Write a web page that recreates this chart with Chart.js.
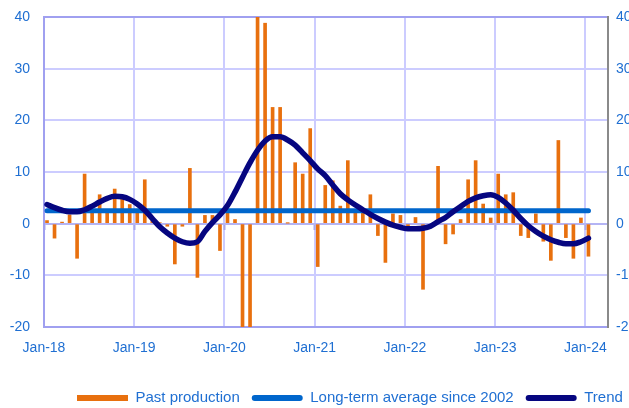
<!DOCTYPE html>
<html><head><meta charset="utf-8">
<script src="https://cdn.jsdelivr.net/npm/chart.js@4.4.1/dist/chart.umd.min.js"></script>
<style>html,body{margin:0;padding:0;background:#fff;}canvas{display:block;}</style>
</head><body>
<canvas id="c" width="629" height="408"></canvas>
<script>
// ---- data (monthly, Jan-18 .. Jan-24) ----
const tickLabels = ['Jan-18','Jan-19','Jan-20','Jan-21','Jan-22','Jan-23','Jan-24'];
const pastProduction = [
  0.6, -2.8, 0.3, 1.7, -6.7, 9.6, 2.1, 5.6, 2.1, 6.7, 4.7, 3.7,
  2.1, 8.5, 0.8, 0.2, -0.5, -7.8, -0.5, 10.7, -10.4, 1.6, 1.6, -5.2,
  2.1, 0.8, -25, -22, 41.5, 38.8, 22.5, 22.5, 0.1, 11.8, 9.6, 18.4,
  -8.3, 7.4, 8.3, 3.4, 12.2, 2.1, 2.1, 5.6, -2.3, -7.5, 1.9, 1.6,
  -0.4, 1.2, -12.7, -0.3, 11.1, -3.9, -2.0, 0.8, 8.5, 12.2, 3.8, 1.1,
  9.6, 5.6, 6.0, -2.3, -2.7, 1.9, -3.4, -7.1, 16.1, -2.7, -6.7, 1.1,
  -6.3
];
const trend = [
  3.7, 3.1, 2.6, 2.3, 2.3, 2.7, 3.4, 4.2, 4.9, 5.3, 5.2, 4.7,
  3.8, 2.6, 1.0, -0.6, -1.8, -2.8, -3.5, -3.8, -3.5, -1.5, 0.2, 1.7,
  3.5, 6.1, 9.0, 11.8, 14.2, 16.0, 16.8, 16.8, 16.2, 15.2, 13.7, 12.2,
  10.6, 9.3, 7.5, 5.8, 4.6, 3.6, 2.7, 1.8, 1.0, 0.3, -0.3, -0.7,
  -1.0, -1.0, -0.9, -0.5, 0.4, 1.2, 2.3, 3.3, 4.3, 5.0, 5.4, 5.6,
  5.1, 4.0, 2.6, 1.0, -0.4, -1.5, -2.4, -3.1, -3.6, -3.9, -3.9, -3.5,
  -2.8
];
const longTermAverage = 2.5;
const yTicks = [-20, -10, 0, 10, 20, 30, 40];

// ---- styles ----
const ORANGE = '#e8700e';
const BLUE = '#0066cc';
const NAVY = '#060680';
const TEXT = '#1f6fd2';
const GRID = '#ccccff';
const FRAME = '#a0a0f0';
const ZERO = '#b4b4f4';
const CLEAR = 'rgba(0,0,0,0)';
const MONTHS_PER_YEAR = 12;
const barPos = i => i + 0.4;

const barData = pastProduction.map((v, i) => ({x: barPos(i), y: v}));
const trendData = trend.map((v, i) => ({x: barPos(i), y: v}));
const ltaData = [{x: barPos(0), y: longTermAverage}, {x: barPos(pastProduction.length - 1), y: longTermAverage}];
const yearTicks = s => { s.ticks = tickLabels.map((t, i) => ({value: i * MONTHS_PER_YEAR})); };

const legendPlace = {
  id: 'legendPlace',
  afterLayout(chart) {
    const lg = chart.legend;
    if (!lg) return;
    const pad = lg.options.labels.padding;
    const dx = 77 - (lg.left + pad);
    lg.left += dx; lg.right += dx;
    const h = lg.height;
    lg.top = 398 - pad - 7.5;
    lg.bottom = lg.top + h;
  }
};

Chart.defaults.font.family = '"Liberation Sans", Arial, sans-serif';

new Chart(document.getElementById('c'), {
  data: {
    datasets: [
      {type: 'bar', label: 'Past production', data: barData, backgroundColor: ORANGE,
       barThickness: 3, order: 3, clip: 0, xAxisID: 'x', yAxisID: 'y'},
      {type: 'line', label: 'Long-term average since 2002', data: ltaData, borderColor: BLUE,
       borderWidth: 5, borderCapStyle: 'round', pointRadius: 0, order: 2, xAxisID: 'x', yAxisID: 'y'},
      {type: 'line', label: 'Trend', data: trendData, borderColor: NAVY, borderWidth: 5.5,
       borderCapStyle: 'round', borderJoinStyle: 'round', tension: 0.4, cubicInterpolationMode: 'monotone',
       pointRadius: 0, order: 1, xAxisID: 'x', yAxisID: 'y'}
    ]
  },
  options: {
    responsive: false,
    animation: false,
    devicePixelRatio: 1,
    layout: {padding: {top: 17, left: 0, right: 0, bottom: 0}},
    plugins: {
      tooltip: {enabled: false},
      legend: {
        position: 'bottom', align: 'start', maxHeight: 30,
        labels: {
          boxWidth: 51, boxHeight: 6, padding: 12, color: TEXT, useBorderRadius: true,
          font: {size: 15},
          generateLabels(chart) {
            return chart.data.datasets.map((ds, i) => ({
              text: ds.label, fillStyle: ds.type === 'bar' ? ds.backgroundColor : ds.borderColor,
              strokeStyle: CLEAR, lineWidth: 0, fontColor: TEXT, hidden: false,
              borderRadius: ds.type === 'bar' ? 0 : 3, datasetIndex: i
            }));
          }
        }
      }
    },
    scales: {
      x: {
        type: 'linear', position: 'bottom', min: 0, max: 75, offset: false,
        afterBuildTicks: yearTicks,
        afterFit(s) { s.height = 51; },
        ticks: {autoSkip: false, maxRotation: 0, color: TEXT, font: {size: 14}, padding: 13,
          callback: v => tickLabels[v / MONTHS_PER_YEAR]},
        grid: {color: GRID, lineWidth: 2, drawTicks: false, offset: false},
        border: {display: true, color: FRAME, width: 2}
      },
      xZero: {
        type: 'linear', axis: 'x', position: {y: 0}, min: 0, max: 75, offset: false,
        afterBuildTicks: yearTicks,
        ticks: {display: false},
        grid: {drawOnChartArea: false, drawTicks: true, tickLength: 5, tickWidth: 2, tickColor: '#a8a8ec', offset: false},
        border: {display: true, color: ZERO, width: 2}
      },
      y: {
        type: 'linear', position: 'left', min: -20, max: 40,
        afterBuildTicks(s) { s.ticks = yTicks.map(v => ({value: v})); },
        afterFit(s) { s.width = 44; },
        ticks: {color: TEXT, font: {size: 14}, padding: 0},
        grid: {lineWidth: 2, drawTicks: true, tickLength: 14, tickColor: CLEAR,
          color: c => (c.tick && (c.tick.value === 40 || c.tick.value === -20)) ? FRAME : (c.tick && c.tick.value === 0 ? ZERO : GRID)},
        border: {display: true, color: FRAME, width: 2}
      },
      y2: {
        type: 'linear', position: 'right', min: -20, max: 40,
        afterBuildTicks(s) { s.ticks = yTicks.map(v => ({value: v})); },
        afterFit(s) { s.width = 21; },
        ticks: {color: TEXT, font: {size: 14}, padding: 0},
        grid: {display: true, drawOnChartArea: false, drawTicks: true, tickLength: 8, tickColor: CLEAR, color: CLEAR},
        border: {display: true, color: '#8a8a8a', width: 2}
      }
    }
  },
  plugins: [legendPlace]
});
</script>
</body></html>
